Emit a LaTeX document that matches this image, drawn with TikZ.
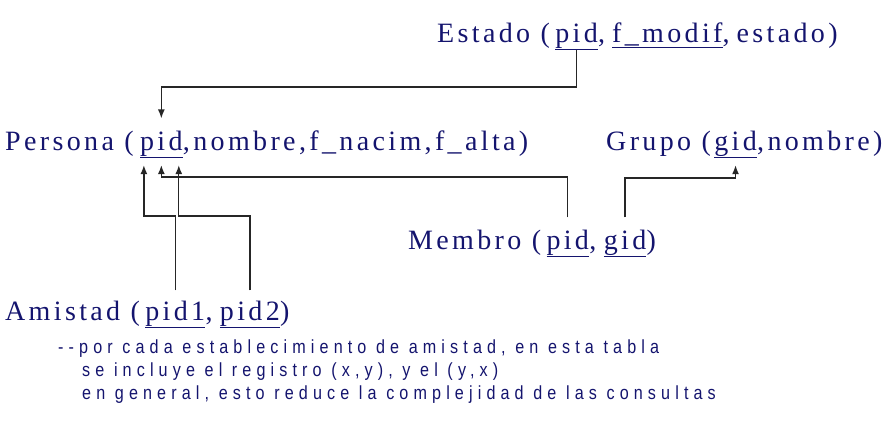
\documentclass[tikz,border=0pt]{standalone}
\usepackage{fontspec}
\setmainfont[LetterSpace=12]{Liberation Serif}
\newfontfamily\notefont[FakeStretch=0.85,LetterSpace=27]{Liberation Sans}
\usetikzlibrary{arrows.meta,positioning}
\definecolor{navy}{RGB}{20,20,110}
\newcommand{\attsep}{,\kern7pt}
\tikzset{
  rel/.style={inner sep=0pt, anchor=base west, text=navy, font=\fontsize{28}{32}\selectfont},
  nota/.style={inner sep=0pt, anchor=base west, text=navy, font=\notefont\fontsize{19}{22}\selectfont},
  fk/.style={draw=black!85, line width=1.3pt, -{Latex[length=9pt,width=7pt]}},
}
\begin{document}
\begin{tikzpicture}[x=1pt,y=-1pt]
\useasboundingbox (0,0) rectangle (888,434);
% relaciones
\node[rel] (estado) at (437,42) {Estado (\kern5pt};
\node[rel] (estpid) at (estado.base east) {\underline{pid}};
\node[rel] (estrest) at (estpid.base east) {\attsep\underline{f\_modif}\attsep estado)};

\node[rel] (persona) at (5,150) {Persona (\kern6pt};
\node[rel] (perpid) at (persona.base east) {\underline{pid}};
\node[rel] (perrest) at (perpid.base east) {,nombre,f\_nacim,f\_alta)};

\node[rel] (grupo) at (606,150) {Grupo (\kern3pt};
\node[rel] (grugid) at (grupo.base east) {\underline{gid}};
\node[rel] (grurest) at (grugid.base east) {,nombre)};

\node[rel] (membro) at (408,249) {Membro (\kern5pt};
\node[rel] (mempid) at (membro.base east) {\underline{pid}};
\node[rel] (memsep) at (mempid.base east) {\attsep};
\node[rel] (memgid) at (memsep.base east) {\underline{gid}};
\node[rel] (memend) at (memgid.base east) {)};

\node[rel] (amistad) at (5,320) {Amistad (\kern5pt};
\node[rel] (amipid1) at (amistad.base east) {\underline{pid1}};
\node[rel] (amisep) at (amipid1.base east) {\attsep};
\node[rel] (amipid2) at (amisep.base east) {\underline{pid2}};
\node[rel] (amiend) at (amipid2.base east) {)};

% comentario
\node[nota] (nota1) at (58,353) {{-}{-}por cada establecimiento de amistad, en esta tabla};
\node[nota] (nota2) at (82,376) {se incluye el registro (x,y), y el (y,x)};
\node[nota] (nota3) at (82,399) {en general, esto reduce la complejidad de las consultas};

% claves foraneas
\draw[fk] (estpid.south) -- (estpid.south |- 0,87) -| ([yshift=12pt]perpid.north);
\draw[fk] ([yshift=10pt]amipid1.north) -- ([yshift=10pt]amipid1.north |- 0,226)
  -| ([xshift=4pt,yshift=-7pt]perpid.south west);
\draw[fk] ([yshift=10pt]amipid2.north) -- ([yshift=10pt]amipid2.north |- 0,226)
  -| ([xshift=-4pt,yshift=-7pt]perpid.south east);
\draw[fk] ([yshift=12pt]mempid.north) -- ([yshift=12pt]mempid.north |- 0,189)
  -| ([yshift=-7pt]perpid.south);
\draw[fk] ([yshift=12pt]memgid.north) -- ([yshift=12pt]memgid.north |- 0,190)
  -| ([yshift=-7pt]grugid.south);
\end{tikzpicture}
\end{document}
